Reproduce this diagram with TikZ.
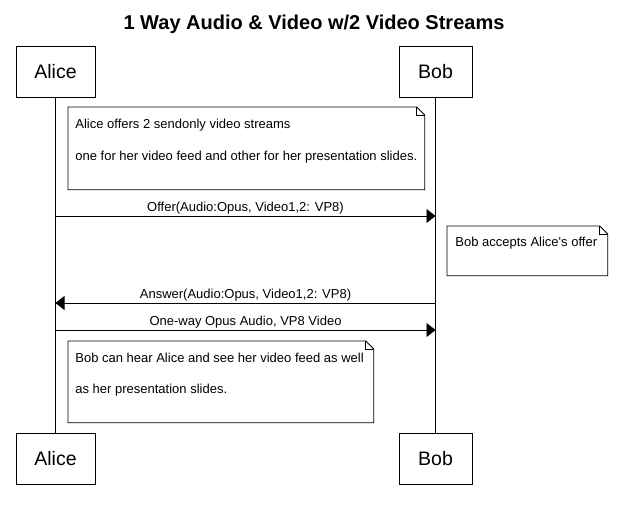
\documentclass[tikz,border=0pt]{standalone}
\usepackage{fontspec}
\setmainfont{Liberation Sans}
\usetikzlibrary{arrows.meta}
\begin{document}
\begin{tikzpicture}[x=1pt,y=-1pt,
  line width=0.8pt,
  actor/.style={draw, minimum height=51pt, inner sep=0pt, font=\fontsize{19.5}{21}\selectfont},
  notebox/.style={draw=none, inner sep=0pt, anchor=north west},
  notetext/.style={anchor=west, inner sep=0pt, font=\fontsize{13}{15}\selectfont},
  msg/.style={-{Triangle[length=9pt,width=14pt]}},
  msglabel/.style={midway, above, inner sep=1.5pt, font=\fontsize{13}{15}\selectfont},
  lifeline/.style={line width=0.8pt}]
\useasboundingbox (0,0) rectangle (627,506);

% title
\node[font=\bfseries\fontsize{20}{22}\selectfont] (title) at (314,24) {1 Way Audio \& Video w/2 Video Streams};

% participants
\node[actor, minimum width=79pt] (aliceTop) at (55.5,71.5) {Alice};
\node[actor, minimum width=73pt] (bobTop) at (435.5,71.5) {Bob};
\node[actor, minimum width=79pt] (aliceBot) at (55.5,458.5) {Alice};
\node[actor, minimum width=73pt] (bobBot) at (435.5,458.5) {Bob};

% lifelines
\draw[lifeline] (aliceTop.south) -- (aliceBot.north);
\draw[lifeline] (bobTop.south) -- (bobBot.north);

% note shape with folded corner
\newcommand{\notepath}[1]{%
  \draw (#1.south west) -- (#1.north west) -- ([xshift=-8pt]#1.north east)
        -- ([yshift=-8pt]#1.north east) -- (#1.south east) -- cycle;
  \draw ([xshift=-8pt]#1.north east) |- ([yshift=-8pt]#1.north east);}

% note 1
\node[notebox, minimum width=356pt, minimum height=82pt] (note1) at (68,107) {};
\notepath{note1}
\node[notetext] (note1a) at (75,125) {Alice offers 2 sendonly video streams};
\node[notetext] (note1b) at (75,157) {one for her video feed and other for her presentation slides.};

% message y positions
\coordinate (y1) at (0,216);
\coordinate (y2) at (0,303);
\coordinate (y3) at (0,330);

% offer
\draw[msg] (aliceTop.south |- y1) -- node[msglabel] {Offer(Audio:Opus, Video1,2: VP8)} (bobTop.south |- y1);

% note 2
\node[notebox, minimum width=160pt, minimum height=49pt] (note2) at (447,226) {};
\notepath{note2}
\node[notetext] (note2a) at (455,243) {Bob accepts Alice\textquotesingle s offer};

% answer
\draw[msg] (bobTop.south |- y2) -- node[msglabel] {Answer(Audio:Opus, Video1,2: VP8)} (aliceTop.south |- y2);

% media
\draw[msg] (aliceTop.south |- y3) -- node[msglabel] {One-way Opus Audio, VP8 Video} (bobTop.south |- y3);

% note 3
\node[notebox, minimum width=305pt, minimum height=81pt] (note3) at (68,341) {};
\notepath{note3}
\node[notetext] (note3a) at (75,358) {Bob can hear Alice and see her video feed as well};
\node[notetext] (note3b) at (75,390) {as her presentation slides.};
\end{tikzpicture}
\end{document}
